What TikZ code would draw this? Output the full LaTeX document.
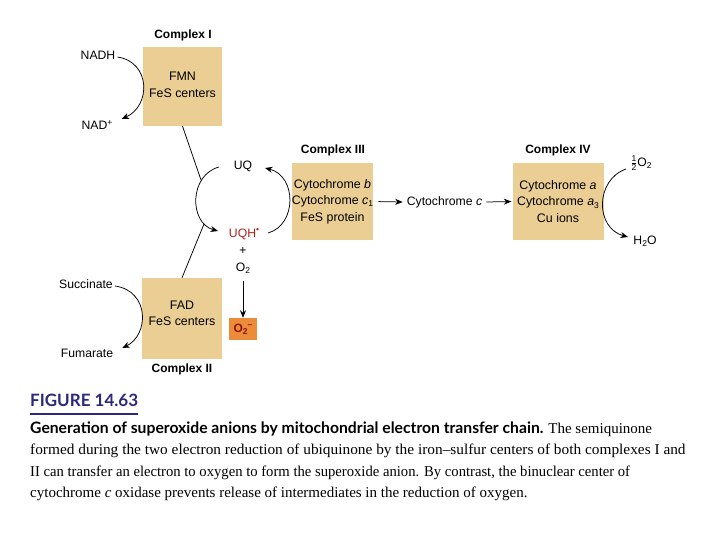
\documentclass[tikz,border=0pt]{standalone}
\usepackage{fontspec}
\setmainfont{Liberation Sans}
\newfontfamily\capserif{Liberation Serif}
\newfontfamily\capsans{Lato}
\usetikzlibrary{arrows.meta,calc}
\definecolor{boxtan}{RGB}{234,206,148}
\definecolor{orangebox}{RGB}{236,140,58}
\definecolor{darkred}{RGB}{140,20,10}
\definecolor{uqred}{RGB}{170,35,25}
\definecolor{figblue}{RGB}{45,40,125}
\newcommand\sbx[1]{\raisebox{-0.35ex}{\fontsize{8.5}{8.5}\selectfont #1}}
\newcommand\spx[1]{\raisebox{0.75ex}{\fontsize{8.5}{8.5}\selectfont #1}}
\begin{document}
\begin{tikzpicture}[x=1pt,y=-1pt,
 cbox/.style={fill=boxtan, draw=none, inner sep=0pt, align=center, font=\fontsize{12.4}{16.5}\selectfont},
 ctext/.style={inner sep=0pt, align=center, font=\fontsize{12.4}{16.5}\selectfont},
 ttl/.style={font=\fontsize{12}{14}\selectfont\bfseries, inner sep=1pt},
 lbl/.style={font=\fontsize{12.2}{14}\selectfont, inner sep=1pt},
 arr/.style={-{Stealth[length=7.5pt,width=6pt]}, line width=0.75pt},
 ln/.style={line width=0.75pt},
 capline/.style={anchor=base west, inner sep=0pt, font=\capserif\fontsize{15}{15}\selectfont}]
\useasboundingbox (0,0) rectangle (720,540);
\fill[white] (0,0) rectangle (720,540);

% complexes
\node[cbox, minimum width=79pt, minimum height=79pt] (c1) at (182.5,86.5) {};
\node[ctext] (c1t) at (182.5,85) {FMN\\FeS centers};
\node[cbox, minimum width=80pt, minimum height=81pt] (c2) at (182,318.5) {};
\node[ctext] (c2t) at (182,313.5) {FAD\\FeS centers};
\node[cbox, minimum width=79pt, minimum height=77pt] (c3) at (332.5,201.5) {Cytochrome \textit{b}\\Cytochrome \textit{c}\sbx{1}\\FeS protein};
\node[cbox, minimum width=91pt, minimum height=77pt] (c4) at (558,201.5) {Cytochrome \textit{a}\\Cytochrome \textit{a}\sbx{3}\\Cu ions};

\node[ttl] (t1) at (183,35) {Complex I};
\node[ttl] (t2) at (182,369) {Complex II};
\node[ttl] (t3) at (333,150) {Complex III};
\node[ttl] (t4) at (558,150) {Complex IV};

% labels
\node[lbl] (nadh) at (98,55) {NADH};
\node[lbl] (nadp) at (97,125) {NAD\spx{+}};
\node[lbl] (succ) at (86,284) {Succinate};
\node[lbl] (fum) at (87,353) {Fumarate};
\node[lbl] (uq) at (243,166) {UQ};
\node[lbl, text=uqred] (uqh) at (244,234) {UQH\spx{•}};
\node[lbl] (plus) at (243,251) {+};
\node[lbl] (o2) at (243,268) {O\sbx{2}};
\node[fill=orangebox, minimum width=28pt, minimum height=22pt, inner sep=0pt, text=darkred,
      font=\fontsize{12}{14}\selectfont\bfseries] (o2m) at (243,329) {O\sbx{2}\spx{–}};
\node[lbl, inner sep=4pt] (cytc) at (444.5,202) {Cytochrome \textit{c}};
\node[lbl] (half) at (641,163) {$\frac{\hbox{\fontsize{8.5}{8.5}\selectfont 1}}{\hbox{\fontsize{8.5}{8.5}\selectfont 2}}$O\sbx{2}};
\node[lbl] (h2o) at (645,241) {H\sbx{2}O};

% free ends on the UQ cycle
\coordinate (lt) at (219,167);
\coordinate (lb) at (218,231);
\coordinate (rb) at (268,233);
\coordinate (rt) at (265,168);
\coordinate (ja) at (201,180);
\coordinate (jb) at (204,224);
\coordinate (o2top) at (243,281);
\coordinate (ht) at (626,169);
\coordinate (hb) at (628,237);

% connectors
\draw[arr] ($(nadh.east)+(1,2)$) .. controls (151,62) and (151,106) .. ($(nadp.east)+(8,-6)$);
\draw[arr] ($(succ.east)+(1,2)$) .. controls (150,291) and (149,335) .. ($(fum.east)+(8,-5)$);
\draw[ln] (c1.south) -- (ja);
\draw[ln] (jb) -- (c2.north);
\draw[arr] (lt) .. controls (189,175) and (189,223) .. (lb);
\draw[arr] (rb) .. controls (297,225) and (297,176) .. (rt);
\draw[arr] (o2top) -- (o2m.north);
\draw[arr, shorten <=5pt] (c3.east) -- (cytc.west);
\draw[arr, shorten >=1pt] (cytc.east) -- (c4.west);
\draw[arr] (ht) .. controls (595,180) and (595,228) .. (hb);

% caption
\node[anchor=base west, inner sep=0pt, text=figblue, font=\capsans\bfseries\fontsize{17}{17}\selectfont] (fig) at (30,406) {FIGURE 14.63};
\draw[figblue, line width=1.6pt] (30,414) -- (138,414);
\node[capline] (l1) at (30,433) {{\capsans\bfseries\fontsize{15.7}{15.7}\selectfont Generation of superoxide anions by mitochondrial electron transfer chain.} The semiquinone};
\node[capline] (l2) at (30,454) {\scalebox{1.023}[1]{formed during the two electron reduction of ubiquinone by the iron–sulfur centers of both complexes I and}};
\node[capline] (l3) at (30,476) {\scalebox{0.977}[1]{II can transfer an electron to oxygen to form the superoxide anion. By contrast, the binuclear center of}};
\node[capline] (l4) at (30,497) {cytochrome \textit{c} oxidase prevents release of intermediates in the reduction of oxygen.};
\end{tikzpicture}
\end{document}
